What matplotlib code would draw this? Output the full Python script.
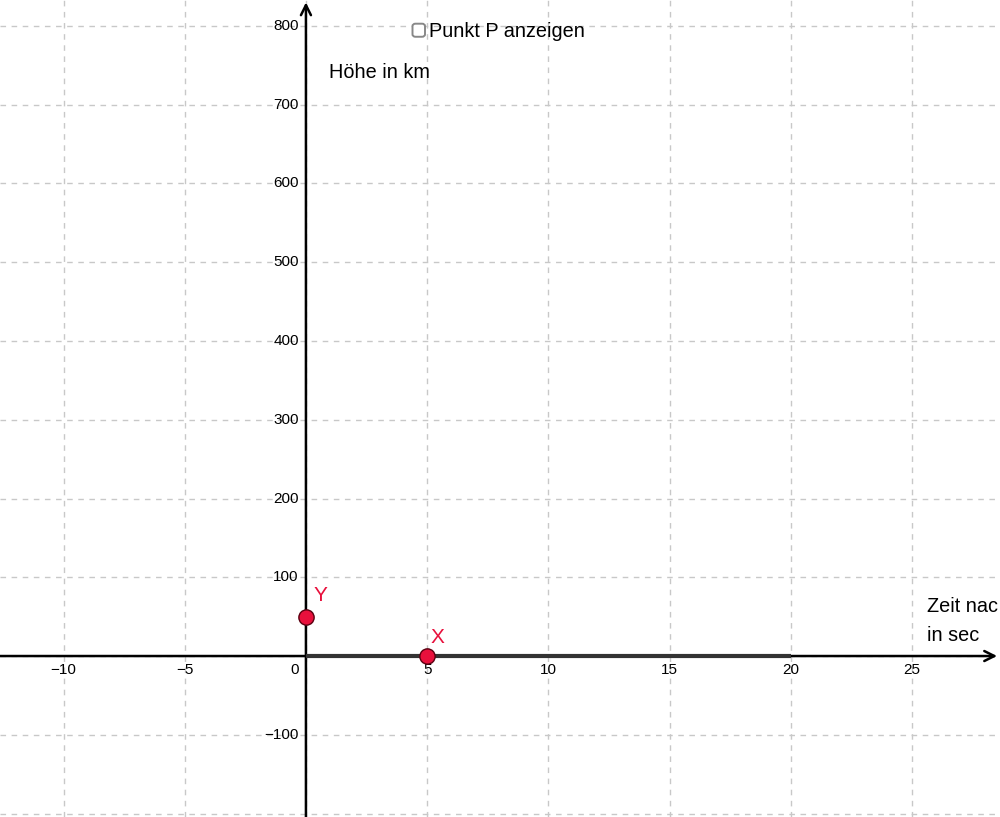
import matplotlib.pyplot as plt
import numpy as np
from matplotlib.patches import FancyBboxPatch

plt.rcParams['font.family'] = ['Liberation Sans', 'DejaVu Sans']

# view window (GeoGebra-like graphics view)
x_min, x_max = -12.62, 28.63
y_min, y_max = -204.4, 833.0

x_ticks = [-10, -5, 0, 5, 10, 15, 20, 25]
y_ticks = [-200, -100, 0, 100, 200, 300, 400, 500, 600, 700, 800]

# segment of the function f(x) = 0 on [0, 20]
seg_x = [0, 20]
seg_y = [0, 0]

# points
pt_names = ['Y', 'X']
pt_x = [0, 5]
pt_y = [50, 0]

red = '#e8103c'

fig = plt.figure(figsize=(10, 8.17), dpi=100)
ax = fig.add_axes([0, 0, 1, 1])
ax.set_xlim(x_min, x_max)
ax.set_ylim(y_min, y_max)
ax.axis('off')

# dashed grid
for gx in x_ticks:
    ax.axvline(gx, color='#c8c8c8', lw=1, ls=(0, (4, 4)), zorder=0)
for gy in y_ticks:
    ax.axhline(gy, color='#c8c8c8', lw=1, ls=(0, (4, 4)), zorder=0)

# axes with arrows
ax.annotate('', xy=(x_max - 0.12, 0), xytext=(x_min, 0),
            arrowprops=dict(arrowstyle='->', lw=1.8, color='black',
                            mutation_scale=18, shrinkA=0, shrinkB=0), zorder=2)
ax.annotate('', xy=(0, y_max - 3), xytext=(0, y_min),
            arrowprops=dict(arrowstyle='->', lw=1.8, color='black',
                            mutation_scale=18, shrinkA=0, shrinkB=0), zorder=2)

# tick labels
for t in x_ticks:
    lab = str(t).replace('-', '\u2212')
    if t == 0:
        ax.text(-0.3, -18, lab, ha='right', va='center', fontsize=11)
    else:
        ax.text(t, -18, lab, ha='center', va='center', fontsize=11)
for t in y_ticks:
    if t in (0, -200):
        continue
    lab = str(t).replace('-', '\u2212')
    ax.text(-0.3, t, lab, ha='right', va='center', fontsize=11)

# function segment
ax.plot(seg_x, seg_y, color='#333333', lw=3, solid_capstyle='butt', zorder=3)

# points
ax.plot(pt_x, pt_y, 'o', ms=11, mfc=red, mec='#5a0010', mew=1, zorder=5)
ax.text(0.3, 77, pt_names[0], color=red, fontsize=15, ha='left', va='center')
ax.text(5.15, 24, pt_names[1], color=red, fontsize=15, ha='left', va='center')

# texts
ax.text(0.97, 741, 'Höhe in km', fontsize=14.3, ha='left', va='center')
ax.text(25.6, 63, 'Zeit nac', fontsize=14.3, ha='left', va='center')
ax.text(25.6, 26, 'in sec', fontsize=14.3, ha='left', va='center')

# checkbox
cb = FancyBboxPatch((0.4125, 0.955), 0.0125, 0.016,
                    boxstyle='round,pad=0,rounding_size=0.003',
                    transform=fig.transFigure, fc='white', ec='#888888', lw=1.4, zorder=6)
fig.patches.append(cb)
fig.text(0.429, 0.962, 'Punkt P anzeigen', fontsize=14.3, ha='left', va='center')

fig.savefig('out.png', dpi=100)
